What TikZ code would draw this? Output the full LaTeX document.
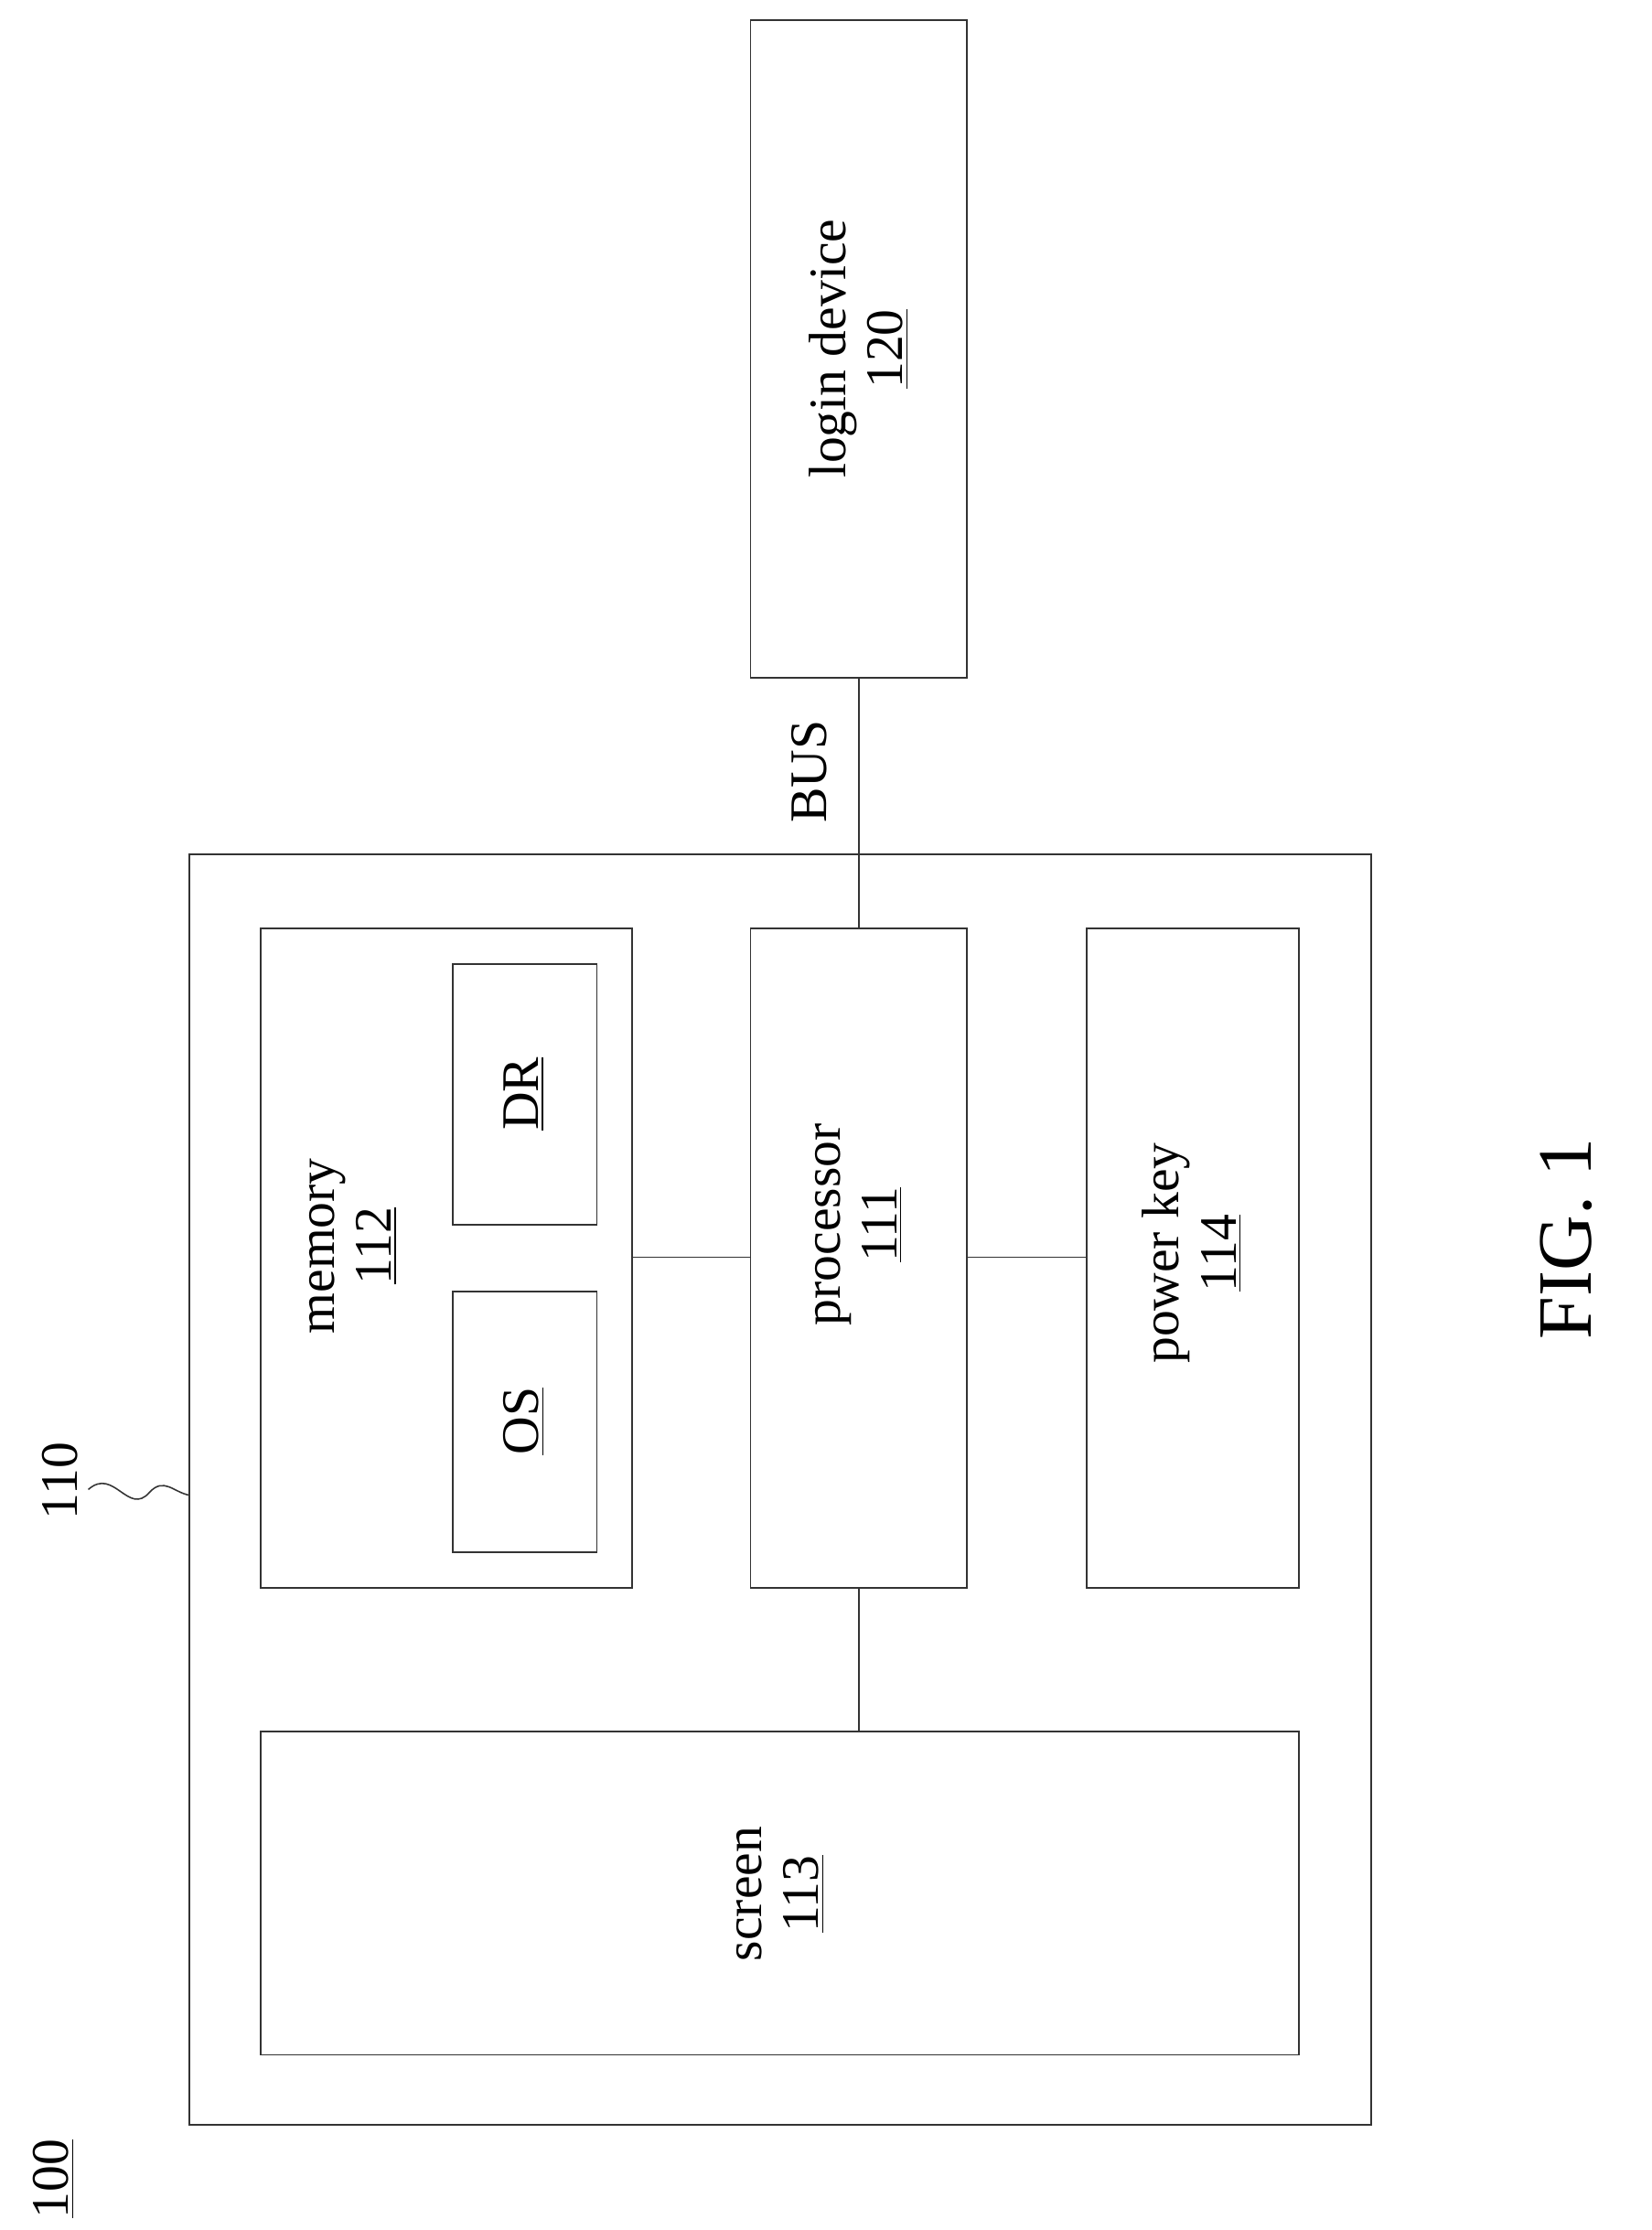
\documentclass[tikz,border=0pt]{standalone}
\usepackage{fontspec}
\setmainfont{Liberation Serif}
\begin{document}
\begin{tikzpicture}[x=0.5pt,y=-0.5pt,
  box/.style={draw=black!80,line width=0.5pt},
  lbl/.style={rotate=90,align=center,font=\fontsize{18.5}{20}\selectfont},
  ln/.style={draw=black!80,line width=0.5pt}]
\useasboundingbox (0,0) rectangle (1160,1566);
\draw[box] (527,14) rectangle (679,476);
\node[lbl] (login) at (603,245) {login device\\\underline{120}};
\draw[box] (133,600) rectangle (963,1492);
\draw[box] (183,652) rectangle (444,1115);
\node[lbl] (mem) at (248,875) {memory\\\underline{112}};
\draw[box] (318,677) rectangle (419,860);
\node[lbl] (dr) at (368,768) {\underline{DR}};
\draw[box] (318,907) rectangle (419,1090);
\node[lbl] (os) at (368,998) {\underline{OS}};
\draw[box] (527,652) rectangle (679,1115);
\node[lbl] (proc) at (603,860) {processor\\\underline{111}};
\draw[box] (763,652) rectangle (912,1115);
\node[lbl] (pk) at (837,880) {power key\\\underline{114}};
\draw[box] (183,1216) rectangle (912,1443);
\node[lbl] (scr) at (548,1330) {screen\\\underline{113}};
\coordinate (a) at (444,883); \coordinate (b) at (527,883);
\coordinate (c) at (679,883); \coordinate (d) at (763,883);
\draw[ln] (a) -- (b); \draw[ln] (c) -- (d);
\coordinate (e) at (603,1115); \coordinate (f) at (603,1216);
\draw[ln] (e) -- (f);
\coordinate (g) at (603,652); \coordinate (h) at (603,476);
\draw[ln] (g) -- (h);
\node[lbl] (bus) at (568,542) {BUS};
\node[lbl] (l110) at (42,1040) {110};
\coordinate (s1) at (62,1046); \coordinate (s2) at (133,1050);
\draw[ln] (s1) .. controls (80,1030) and (90,1065) .. (105,1048) .. controls (115,1037) and (122,1048) .. (s2);
\node[lbl] (l100) at (38,1530) {\underline{100}};
\node[rotate=90,font=\fontsize{27}{29}\selectfont] (fig) at (1100,870) {FIG. 1};
\end{tikzpicture}
\end{document}
